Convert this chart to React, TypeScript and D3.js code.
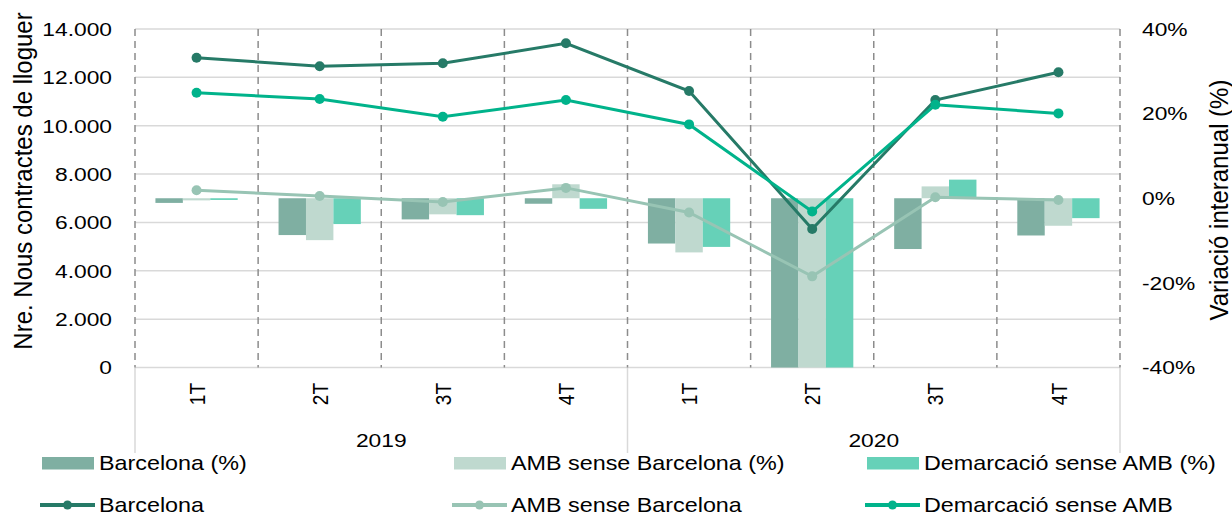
import React from "react";
import * as d3 from "d3";

const quarters = ["1T", "2T", "3T", "4T", "1T", "2T", "3T", "4T"];
const years = ["2019", "2020"];
const leftTicks = [0, 2000, 4000, 6000, 8000, 10000, 12000, 14000];
const rightTicks = [-40, -20, 0, 20, 40];

const barcelonaPct = [-1.1, -8.7, -5.0, -1.3, -10.7, -40, -12.0, -8.8];
const ambPct = [-0.5, -9.9, -3.8, 3.3, -12.8, -40, 2.8, -6.5];
const demPct = [-0.4, -6.1, -4.0, -2.5, -11.5, -40, 4.4, -4.7];

const barcelona = [12813, 12456, 12580, 13409, 11433, 5729, 11060, 12208];
const amb = [7332, 7096, 6848, 7428, 6409, 3770, 7042, 6931];
const dem = [11363, 11102, 10369, 11060, 10054, 6450, 10866, 10509];

const barSeries = [
  { name: "Barcelona (%)", values: barcelonaPct, color: "#7FAFA2" },
  { name: "AMB sense Barcelona (%)", values: ambPct, color: "#BFD9CF" },
  { name: "Demarcació sense AMB (%)", values: demPct, color: "#66D1B8" },
];
const lineSeries = [
  { name: "Barcelona", values: barcelona, color: "#267A67" },
  { name: "AMB sense Barcelona", values: amb, color: "#98C4B4" },
  { name: "Demarcació sense AMB", values: dem, color: "#00B38B" },
];

const FONT = "'Liberation Sans', Arial, Helvetica, sans-serif";

function T({ x, y, size = 19, sx = 1.2, rot = 0, anchor = "start", children }: any) {
  return (
    <text
      transform={`translate(${x},${y}) scale(${sx},1)${rot ? ` rotate(${rot})` : ""}`}
      fontSize={size}
      fontFamily={FONT}
      textAnchor={anchor}
      dominantBaseline="central"
      fill="#000"
    >
      {children}
    </text>
  );
}

export default function App() {
  const W = 1232, H = 516;
  const left = 135, right = 1120, top = 29, bottom = 367.5;
  const idx = quarters.map((_, i) => i);
  const x = d3.scaleBand<number>().domain(idx).range([left, right]).paddingInner(0).paddingOuter(0);
  const xInner = d3.scaleBand<number>().domain([0, 1, 2]).range([0, x.bandwidth()]).paddingInner(0).paddingOuter(0.745);
  const yL = d3.scaleLinear().domain([0, 14000]).range([bottom, top]);
  const yR = d3.scaleLinear().domain([-40, 40]).range([bottom, top]);
  const fmt = (v: number) => d3.format(",")(v).replace(/,/g, ".");

  const lineGen = (vals: number[]) =>
    d3.line<number>().x((_, i) => x(i)! + x.bandwidth() / 2).y((v) => yL(v))(vals) || "";

  const boundaries = d3.range(0, quarters.length + 1).map((k) => left + k * x.step());
  const yearDivs = [left, left + 4 * x.step(), right];

  const legCols = [42, 454, 867];

  return (
    <svg width={W} height={H} style={{ position: "absolute", left: 0, top: 0, background: "#fff" }}>
      {leftTicks.map((t) => (
        <line key={t} x1={left} x2={right} y1={yL(t)} y2={yL(t)} stroke="#D9D9D9" strokeWidth={1.5} />
      ))}
      {yearDivs.map((xv, i) => (
        <line key={i} x1={xv} x2={xv} y1={bottom} y2={453} stroke="#D9D9D9" strokeWidth={1.5} />
      ))}
      {boundaries.map((bx, i) => (
        <line key={i} x1={bx} x2={bx} y1={top} y2={bottom} stroke="#8C8C8C" strokeWidth={1.5} strokeDasharray="7,5" />
      ))}
      {barSeries.map((s, si) =>
        s.values.map((v, i) => {
          const bx = x(i)! + xInner(si)!;
          const y0 = yR(0), y1 = yR(v);
          return (
            <rect key={`${si}-${i}`} x={bx} y={Math.min(y0, y1)} width={xInner.bandwidth()} height={Math.abs(y1 - y0)} fill={s.color} />
          );
        })
      )}
      {lineSeries.map((s, si) => (
        <g key={si}>
          <path d={lineGen(s.values)} fill="none" stroke={s.color} strokeWidth={3} />
          {s.values.map((v, i) => (
            <circle key={i} cx={x(i)! + x.bandwidth() / 2} cy={yL(v)} r={5} fill={s.color} />
          ))}
        </g>
      ))}
      {leftTicks.map((t) => (
        <T key={t} x={112} y={yL(t)} anchor="end">{fmt(t)}</T>
      ))}
      {rightTicks.map((t) => (
        <T key={t} x={1142} y={yR(t)}>{`${t}%`}</T>
      ))}
      {quarters.map((q, i) => (
        <T key={i} x={x(i)! + x.bandwidth() / 2} y={383} rot={-90} anchor="end" sx={1.2}>{q}</T>
      ))}
      {years.map((yv, i) => (
        <T key={yv} x={(yearDivs[i] + yearDivs[i + 1]) / 2} y={440} anchor="middle">{yv}</T>
      ))}
      <T x={23} y={181} rot={-90} anchor="middle" size={24} sx={1.05}>Nre. Nous contractes de lloguer</T>
      <T x={1219} y={200} rot={-90} anchor="middle" size={24} sx={1.05}>Variació interanual (%)</T>
      {barSeries.map((s, i) => (
        <g key={s.name}>
          <rect x={legCols[i]} y={457} width={52} height={12.5} fill={s.color} />
          <T x={legCols[i] + 57} y={463.5} size={20.3} sx={1.15}>{s.name}</T>
        </g>
      ))}
      {lineSeries.map((s, i) => (
        <g key={s.name}>
          <line x1={legCols[i] - 2} x2={legCols[i] + 53} y1={505} y2={505} stroke={s.color} strokeWidth={4} />
          <circle cx={legCols[i] + 25.5} cy={505} r={4.5} fill={s.color} />
          <T x={legCols[i] + 57} y={505} size={20.3} sx={1.15}>{s.name}</T>
        </g>
      ))}
    </svg>
  );
}
